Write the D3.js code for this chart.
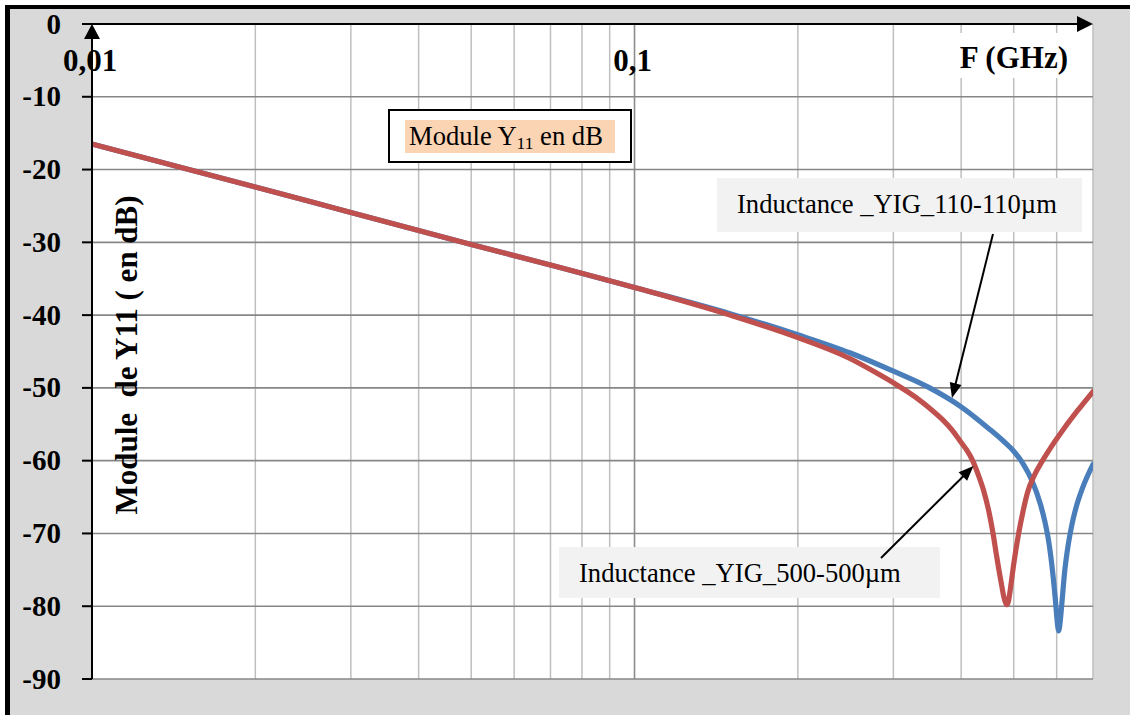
<!DOCTYPE html>
<html>
<head>
<meta charset="utf-8">
<script src="https://cdn.jsdelivr.net/npm/d3@7"></script>
<style>
  html, body { margin: 0; padding: 0; background: #fff; }
  svg { display: block; }
  text { font-family: "Liberation Serif", "Times New Roman", serif; }
</style>
</head>
<body>
<svg id="chart" width="1130" height="715"></svg>
<script>
// |Y11| in dB versus frequency (GHz) for the two YIG inductances
const freq110 = [0.01, 0.02, 0.03, 0.05, 0.07, 0.1, 0.15, 0.2, 0.25, 0.3, 0.35, 0.4, 0.45, 0.48, 0.5,
                 0.52, 0.54, 0.56, 0.57, 0.58, 0.59, 0.596, 0.6, 0.603, 0.605, 0.607, 0.61, 0.615,
                 0.62, 0.63, 0.64, 0.65, 0.67, 0.7];
const db110   = [-16.5, -22.4, -25.9, -30.3, -33.1, -36.2, -39.8, -42.7, -45.2, -47.7, -50.0, -52.6, -55.6, -57.4, -58.7,
                 -60.4, -62.7, -66.0, -68.2, -71.1, -75.4, -78.7, -81.3, -82.9, -83.4, -83.0, -81.6, -78.6,
                 -75.6, -71.6, -68.8, -66.7, -63.7, -60.5];

const freq500 = [0.01, 0.02, 0.03, 0.05, 0.07, 0.1, 0.15, 0.2, 0.25, 0.28, 0.3, 0.33, 0.35, 0.37, 0.385,
                 0.4, 0.41, 0.42, 0.43, 0.44, 0.45, 0.457, 0.465, 0.47, 0.475, 0.479, 0.483, 0.486,
                 0.489, 0.493, 0.5, 0.505, 0.51, 0.52, 0.53, 0.545, 0.565, 0.585, 0.62, 0.656, 0.7];
const db500   = [-16.5, -22.4, -25.9, -30.3, -33.1, -36.2, -40.0, -43.1, -46.0, -48.0, -49.3, -51.3, -52.8, -54.4, -55.8,
                 -57.5, -58.6, -60.0, -61.9, -64.1, -67.0, -69.6, -73.1, -75.2, -77.1, -78.6, -79.5, -79.8,
                 -79.3, -77.6, -74.2, -72.1, -70.2, -67.0, -64.4, -62.1, -60.0, -58.2, -55.5, -53.1, -50.5];

const yTicks = [0, -10, -20, -30, -40, -50, -60, -70, -80, -90];
const xTickValues = [0.01, 0.1];
const xTickLabels = ["0,01", "0,1"];
const minorFreqs = [0.02, 0.03, 0.04, 0.05, 0.06, 0.07, 0.08, 0.09, 0.2, 0.3, 0.4, 0.5, 0.6, 0.7];

const W = 1130, H = 715;
const plot = { left: 92, right: 1093, top: 24, bottom: 679 };

const svg = d3.select("#chart");
const x = d3.scaleLog().domain([0.01, 0.7]).range([plot.left, plot.right]);
const y = d3.scaleLinear().domain([-90, 0]).range([plot.bottom, plot.top]);

svg.append("defs").append("clipPath").attr("id", "plot-clip")
  .append("rect")
  .attr("x", plot.left).attr("y", plot.top)
  .attr("width", plot.right - plot.left).attr("height", plot.bottom - plot.top);

// frame and background
svg.append("rect").attr("width", W).attr("height", H).attr("fill", "#fff");
svg.append("rect").attr("x", 5).attr("y", 5).attr("width", W - 5).attr("height", H - 5).attr("fill", "#000");
svg.append("rect").attr("x", 10).attr("y", 9).attr("width", W - 10).attr("height", H - 9).attr("fill", "#d9d9d9");
svg.append("rect")
  .attr("x", plot.left).attr("y", plot.top)
  .attr("width", plot.right - plot.left).attr("height", plot.bottom - plot.top)
  .attr("fill", "#fff");

// grid
const grid = svg.append("g");
grid.selectAll("line.vminor").data(minorFreqs).join("line")
  .attr("x1", d => x(d)).attr("x2", d => x(d))
  .attr("y1", plot.top).attr("y2", plot.bottom)
  .attr("stroke", "#bfbfbf").attr("stroke-width", 1.5);
grid.append("line")
  .attr("x1", x(0.1)).attr("x2", x(0.1))
  .attr("y1", plot.top).attr("y2", plot.bottom)
  .attr("stroke", "#8c8c8c").attr("stroke-width", 1.6);
grid.selectAll("line.h").data(yTicks.filter(d => d !== 0)).join("line")
  .attr("x1", plot.left).attr("x2", plot.right)
  .attr("y1", d => y(d)).attr("y2", d => y(d))
  .attr("stroke", "#878787").attr("stroke-width", 1.6);

// frequency axis title on a white patch
svg.append("rect").attr("x", 955).attr("y", 33).attr("width", 120).attr("height", 45).attr("fill", "#fff");
svg.append("text").attr("x", 1068).attr("y", 68).attr("text-anchor", "end")
  .attr("font-size", 31).attr("font-weight", "bold").text("F (GHz)");

// annotation boxes
const titleBox = svg.append("g");
titleBox.append("rect").attr("x", 389).attr("y", 110).attr("width", 242).attr("height", 52)
  .attr("fill", "#fff").attr("stroke", "#000").attr("stroke-width", 2);
titleBox.append("rect").attr("x", 405).attr("y", 120).attr("width", 210).attr("height", 33).attr("fill", "#fbd4b4");
const tt = titleBox.append("text").attr("x", 409).attr("y", 145).attr("font-size", 26.6);
tt.append("tspan").text("Module Y");
tt.append("tspan").attr("font-size", 17.5).attr("dy", 4).text("11");
tt.append("tspan").attr("dy", -4).text(" en dB");

svg.append("rect").attr("x", 717).attr("y", 178).attr("width", 365).attr("height", 54).attr("fill", "#f2f2f2");
svg.append("text").attr("x", 737).attr("y", 213).attr("font-size", 26.6).text("Inductance _YIG_110-110\u00b5m");
svg.append("rect").attr("x", 559).attr("y", 547).attr("width", 381).attr("height", 51).attr("fill", "#f2f2f2");
svg.append("text").attr("x", 579).attr("y", 582).attr("font-size", 26.6).text("Inductance _YIG_500-500\u00b5m");

// curves, clipped to the plotting area
const line = d3.line().x(d => x(d[0])).y(d => y(d[1])).curve(d3.curveMonotoneX);
const curves = svg.append("g").attr("clip-path", "url(#plot-clip)");
curves.append("path").datum(d3.zip(freq110, db110)).attr("d", line)
  .attr("fill", "none").attr("stroke", "#4a7ebb").attr("stroke-width", 5.2)
  .attr("stroke-linejoin", "round").attr("stroke-linecap", "round");
curves.append("path").datum(d3.zip(freq500, db500)).attr("d", line)
  .attr("fill", "none").attr("stroke", "#c0504d").attr("stroke-width", 5.2)
  .attr("stroke-linejoin", "round").attr("stroke-linecap", "round");

// arrow helper: shaft plus filled head ending at (x2, y2)
function arrow(x1, y1, x2, y2, len, half, width) {
  const dx = x2 - x1, dy = y2 - y1, L = Math.hypot(dx, dy);
  const ux = dx / L, uy = dy / L;
  const bx = x2 - ux * len, by = y2 - uy * len;
  svg.append("line").attr("x1", x1).attr("y1", y1).attr("x2", bx + ux * 2).attr("y2", by + uy * 2)
    .attr("stroke", "#000").attr("stroke-width", width);
  svg.append("path")
    .attr("d", `M${x2},${y2}L${bx - uy * half},${by + ux * half}L${bx + uy * half},${by - ux * half}Z`)
    .attr("fill", "#000");
}
arrow(993, 234, 952, 398, 15, 6, 2);
arrow(881, 558, 973.5, 466, 15, 6, 2);

// axes
svg.append("line").attr("x1", plot.left).attr("x2", plot.left)
  .attr("y1", plot.bottom).attr("y2", plot.top + 12)
  .attr("stroke", "#000").attr("stroke-width", 2);
svg.append("path").attr("d", `M${plot.left},${plot.top}L${plot.left - 8},${plot.top + 15}L${plot.left + 8},${plot.top + 15}Z`)
  .attr("fill", "#000");
svg.append("line").attr("x1", 82).attr("x2", plot.right - 12)
  .attr("y1", y(0)).attr("y2", y(0))
  .attr("stroke", "#000").attr("stroke-width", 2);
svg.append("path").attr("d", `M${plot.right},${y(0)}L${plot.right - 16},${y(0) - 8}L${plot.right - 16},${y(0) + 8}Z`)
  .attr("fill", "#000");

// y ticks and labels
svg.selectAll("line.ytick").data(yTicks).join("line")
  .attr("x1", 82).attr("x2", plot.left)
  .attr("y1", d => y(d)).attr("y2", d => y(d))
  .attr("stroke", "#000").attr("stroke-width", 2);
svg.selectAll("text.ylab").data(yTicks).join("text")
  .attr("x", 61).attr("y", d => y(d) + 9.5)
  .attr("text-anchor", "end").attr("font-size", 29).attr("font-weight", "bold")
  .text(d => d);

// x labels
svg.selectAll("text.xlab").data(xTickValues).join("text")
  .attr("x", d => x(d) - 2).attr("y", 71)
  .attr("text-anchor", "middle").attr("font-size", 31).attr("font-weight", "bold")
  .text((d, i) => xTickLabels[i]);

// y axis title
svg.append("text")
  .attr("transform", "translate(137,355) rotate(-90)")
  .attr("text-anchor", "middle").attr("font-size", 31).attr("font-weight", "bold")
  .style("white-space", "pre")
  .text("Module  de Y11 ( en dB)");
</script>
</body>
</html>
